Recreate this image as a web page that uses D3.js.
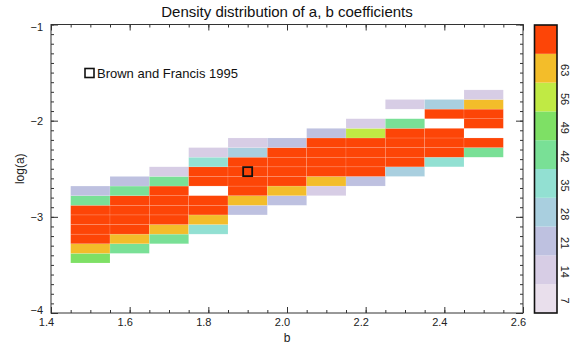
<!DOCTYPE html>
<html>
<head>
<meta charset="utf-8">
<script src="https://cdn.jsdelivr.net/npm/d3@7"></script>
<style>
  html, body { margin: 0; padding: 0; background: #fff; }
  svg { display: block; font-family: "Liberation Sans", Arial, Helvetica, sans-serif; }
</style>
</head>
<body>
<svg id="chart" width="574" height="345"></svg>
<script>
// ---------- data ----------
const bCenters = [1.5, 1.6, 1.7, 1.8, 1.9, 2.0, 2.1, 2.2, 2.3, 2.4, 2.5];
const logALow = [-3.48, -3.38, -3.28, -3.18, -3.08, -2.98, -2.88, -2.78, -2.68,
                 -2.58, -2.48, -2.38, -2.28, -2.18, -2.08, -1.98, -1.88, -1.78];
const binWidthB = 0.1;
const binHeightLogA = 0.1;
// density per b-column, listed from lowest log(a) row upward (0 = empty)
const col150 = [46, 60, 85, 110, 120, 95, 39, 18, 0, 0, 0, 0, 0, 0, 0, 0, 0, 0];
const col160 = [0, 39, 60, 90, 130, 140, 100, 38, 17, 0, 0, 0, 0, 0, 0, 0, 0, 0];
const col170 = [0, 0, 40, 59, 80, 125, 150, 95, 38, 11, 0, 0, 0, 0, 0, 0, 0, 0];
const col180 = [0, 0, 0, 31, 61, 90, 140, 0, 120, 85, 32, 10, 0, 0, 0, 0, 0, 0];
const col190 = [0, 0, 0, 0, 0, 18, 59, 100, 150, 160, 90, 26, 10, 0, 0, 0, 0, 0];
const col200 = [0, 0, 0, 0, 0, 0, 17, 60, 110, 155, 140, 80, 18, 0, 0, 0, 0, 0];
const col210 = [0, 0, 0, 0, 0, 0, 0, 11, 58, 95, 145, 130, 78, 16, 0, 0, 0, 0];
const col220 = [0, 0, 0, 0, 0, 0, 0, 0, 18, 72, 120, 150, 110, 53, 10, 0, 0, 0];
const col230 = [0, 0, 0, 0, 0, 0, 0, 0, 0, 25, 75, 130, 140, 90, 40, 0, 9, 0];
const col240 = [0, 0, 0, 0, 0, 0, 0, 0, 0, 0, 32, 85, 125, 100, 0, 70, 24, 0];
const col250 = [0, 0, 0, 0, 0, 0, 0, 0, 0, 0, 0, 41, 80, 0, 95, 88, 62, 12];
const densityColumns = [col150, col160, col170, col180, col190, col200, col210, col220, col230, col240, col250];

const colorThresholds = [7, 14, 21, 28, 35, 42, 49, 56, 63];
const colorbarLabels = ["7", "14", "21", "28", "35", "42", "49", "56", "63"];
const colorbarMax = 70;
const xTicks = [1.4, 1.6, 1.8, 2.0, 2.2, 2.4, 2.6];
const yTicks = [-4, -3, -2, -1];
const refPoint = { name: "Brown and Francis 1995", b: 1.9, logA: -2.53 };

// ---------- layout ----------
const svg = d3.select("#chart");
const pLeft = 51, pRight = 523, pTop = 24.5, pBottom = 313;
const palette = ["#e9dfec", "#d7cde5", "#bec1e0", "#a9cfdf", "#92e0d2",
                 "#79e096", "#7ee065", "#c0ea44", "#f3bd2a", "#fd4507"];
const color = d3.scaleThreshold().domain(colorThresholds).range(palette);

const x = d3.scaleLinear().domain([1.4, 2.6]).range([pLeft, pRight]);
const y = d3.scaleLinear().domain([-4, -1]).range([pBottom, pTop]);

// ---------- cells ----------
const cells = [];
densityColumns.forEach((col, ci) => {
  col.forEach((v, ri) => {
    if (v > 0) cells.push({ b: bCenters[ci], lo: logALow[ri], v });
  });
});
svg.append("g").selectAll("rect").data(cells).join("rect")
  .attr("x", d => x(d.b - binWidthB / 2))
  .attr("width", d => x(d.b + binWidthB / 2) - x(d.b - binWidthB / 2))
  .attr("y", d => y(d.lo + binHeightLogA))
  .attr("height", d => y(d.lo) - y(d.lo + binHeightLogA))
  .attr("fill", d => color(d.v))
  .attr("stroke", "rgba(255,255,255,0.25)")
  .attr("stroke-width", 0.5);

// ---------- axes ----------
const axisColor = "#333";
const xMinor = d3.range(1.4, 2.6001, 0.05);
const yMinor = d3.range(-4, -0.999, 0.1);
function styleAxis(g) {
  g.select(".domain").remove();
  g.selectAll("line").attr("stroke", axisColor).attr("stroke-width", 1);
  g.selectAll("text").attr("fill", "#222").style("font-size", "11px");
}
// bottom
svg.append("g").attr("transform", `translate(0,${pBottom})`)
  .call(d3.axisBottom(x).tickValues(xMinor).tickSize(-3).tickFormat(""))
  .call(styleAxis);
svg.append("g").attr("transform", `translate(0,${pBottom})`)
  .call(d3.axisBottom(x).tickValues(xTicks).tickSize(-6).tickPadding(5).tickFormat(d3.format(".1f")))
  .call(styleAxis)
  .call(g => g.selectAll("text").attr("dx", -5));
// top
svg.append("g").attr("transform", `translate(0,${pTop})`)
  .call(d3.axisTop(x).tickValues(xMinor).tickSize(-3).tickFormat(""))
  .call(styleAxis);
svg.append("g").attr("transform", `translate(0,${pTop})`)
  .call(d3.axisTop(x).tickValues(xTicks).tickSize(-6).tickFormat(""))
  .call(styleAxis);
// left
svg.append("g").attr("transform", `translate(${pLeft},0)`)
  .call(d3.axisLeft(y).tickValues(yMinor).tickSize(-3).tickFormat(""))
  .call(styleAxis);
svg.append("g").attr("transform", `translate(${pLeft},0)`)
  .call(d3.axisLeft(y).tickValues(yTicks).tickSize(-7).tickPadding(8).tickFormat(d3.format("d")))
  .call(styleAxis)
  .call(g => g.selectAll("text").attr("dy", d => d === -4 ? "0.05em" : d === -1 ? "0.55em" : "0.32em"));
// right
svg.append("g").attr("transform", `translate(${pRight},0)`)
  .call(d3.axisRight(y).tickValues(yMinor).tickSize(-3).tickFormat(""))
  .call(styleAxis);
svg.append("g").attr("transform", `translate(${pRight},0)`)
  .call(d3.axisRight(y).tickValues(yTicks).tickSize(-7).tickFormat(""))
  .call(styleAxis);
// frame
svg.append("rect").attr("x", pLeft).attr("y", pTop)
  .attr("width", pRight - pLeft).attr("height", pBottom - pTop)
  .attr("fill", "none").attr("stroke", axisColor).attr("stroke-width", 1);

// axis titles
svg.append("text").attr("x", (pLeft + pRight) / 2).attr("y", 342)
  .attr("text-anchor", "middle").style("font-size", "12px").attr("fill", "#222").text("b");
svg.append("text").attr("transform", `translate(24,${(pTop + pBottom) / 2}) rotate(-90)`)
  .attr("text-anchor", "middle").style("font-size", "12px").attr("fill", "#222").text("log(a)");
// title
svg.append("text").attr("x", 287).attr("y", 17)
  .attr("text-anchor", "middle").style("font-size", "15px").attr("fill", "#111")
  .text("Density distribution of a, b coefficients");

// ---------- reference point & legend ----------
svg.append("rect")
  .attr("x", x(refPoint.b) - 4.5).attr("y", y(refPoint.logA) - 4.5)
  .attr("width", 9).attr("height", 9)
  .attr("fill", "none").attr("stroke", "#111").attr("stroke-width", 1.8);
svg.append("rect").attr("x", 85).attr("y", 68.5).attr("width", 9).attr("height", 9)
  .attr("fill", "none").attr("stroke", "#111").attr("stroke-width", 1.6);
svg.append("text").attr("x", 97).attr("y", 77.5).style("font-size", "13px").attr("fill", "#111")
  .text(refPoint.name);

// ---------- colorbar ----------
const cbLeft = 534.5, cbRight = 557, cbTop = 25, cbBottom = 313;
const cbScale = d3.scaleLinear().domain([0, colorbarMax]).range([cbBottom, cbTop]);
const cbEdges = [0].concat(colorThresholds).concat([colorbarMax]);
const cbBins = d3.range(palette.length).map(i => ({ lo: cbEdges[i], hi: cbEdges[i + 1], c: palette[i] }));
svg.append("g").selectAll("rect").data(cbBins).join("rect")
  .attr("x", cbLeft).attr("width", cbRight - cbLeft)
  .attr("y", d => cbScale(d.hi)).attr("height", d => cbScale(d.lo) - cbScale(d.hi))
  .attr("fill", d => d.c);
svg.append("rect").attr("x", cbLeft).attr("y", cbTop)
  .attr("width", cbRight - cbLeft).attr("height", cbBottom - cbTop)
  .attr("fill", "none").attr("stroke", "#111").attr("stroke-width", 1.6);
svg.append("g").selectAll("text").data(colorbarLabels).join("text")
  .attr("transform", (d, i) => `translate(561,${(cbScale(cbEdges[i]) + cbScale(cbEdges[i + 1])) / 2 + 2}) rotate(90)`)
  .attr("text-anchor", "middle").style("font-size", "11px").attr("fill", "#222")
  .text(d => d);
</script>
</body>
</html>
